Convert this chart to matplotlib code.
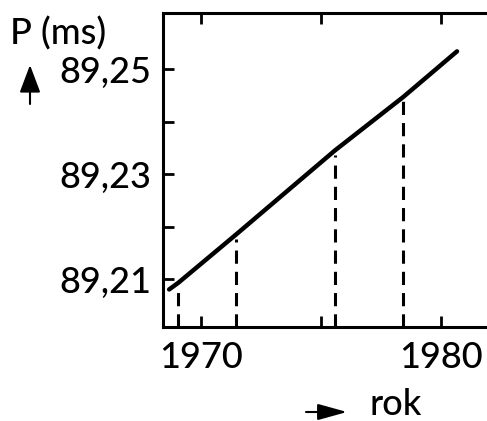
import matplotlib
matplotlib.use('Agg')
import matplotlib.pyplot as plt

# values
years = [1968.67, 1969.06, 1971.44, 1975.58, 1978.43, 1980.67]
period = [89.2080, 89.2093, 89.2184, 89.2345, 89.2447, 89.2534]
# dashed drop lines (year, period at that point)
mark_years = [1969.06, 1971.44, 1975.58, 1978.43]
mark_period = [89.2093, 89.2184, 89.2345, 89.2447]

x_ticks = [1970, 1975, 1980]
x_labels = ['1970', '', '1980']
y_ticks = [89.21, 89.22, 89.23, 89.24, 89.25]
y_labels = ['89,21', '', '89,23', '', '89,25']

plt.rcParams['font.family'] = ['Lato', 'DejaVu Sans']
plt.rcParams['font.weight'] = 'medium'
plt.rcParams['lines.scale_dashes'] = False

fig = plt.figure(figsize=(4.87, 4.21), dpi=100)
ax = fig.add_axes([0.334, 0.224, 0.666, 0.745])

ax.plot(years, period, color='k', lw=3.2, solid_capstyle='round')

ymin, ymax = 89.2009, 89.2607
gap = 0.0008
ax.vlines(mark_years, ymin, [p - gap for p in mark_period], colors='k',
          lw=2.2, linestyles=[(0, (9.5, 5.8))])

ax.set_xlim(1968.4, 1981.92)
ax.set_ylim(ymin, ymax)

ax.set_xticks(x_ticks)
ax.set_xticklabels(x_labels)
ax.set_yticks(y_ticks)
ax.set_yticklabels(y_labels)
ax.tick_params(axis='both', direction='in', length=8, width=2.0, labelsize=26)
ax.tick_params(axis='x', top=True, pad=10)
ax.tick_params(axis='y', pad=8)

for side in ['left', 'top', 'bottom']:
    ax.spines[side].set_linewidth(2.2)
ax.spines['right'].set_visible(False)

# axis captions with arrows, as in the book figure
fig.text(58 / 487, 1 - 33 / 421, 'P (ms)', fontsize=26, ha='center', va='center')
ax.annotate('', xy=(30, 421 - 65), xytext=(30, 421 - 104), xycoords='figure pixels',
            arrowprops=dict(arrowstyle='-|>,head_length=0.85,head_width=0.32',
                            lw=1.5, color='k', mutation_scale=20,
                            shrinkA=0, shrinkB=0))
ax.annotate('', xy=(347, 421 - 412), xytext=(306, 421 - 412), xycoords='figure pixels',
            arrowprops=dict(arrowstyle='-|>,head_length=0.9,head_width=0.25',
                            lw=1.5, color='k', mutation_scale=20,
                            shrinkA=0, shrinkB=0))
fig.text(370 / 487, 1 - 415 / 421, 'rok', fontsize=26, ha='left', va='baseline')

plt.savefig('out.png', dpi=100)
plt.close()
